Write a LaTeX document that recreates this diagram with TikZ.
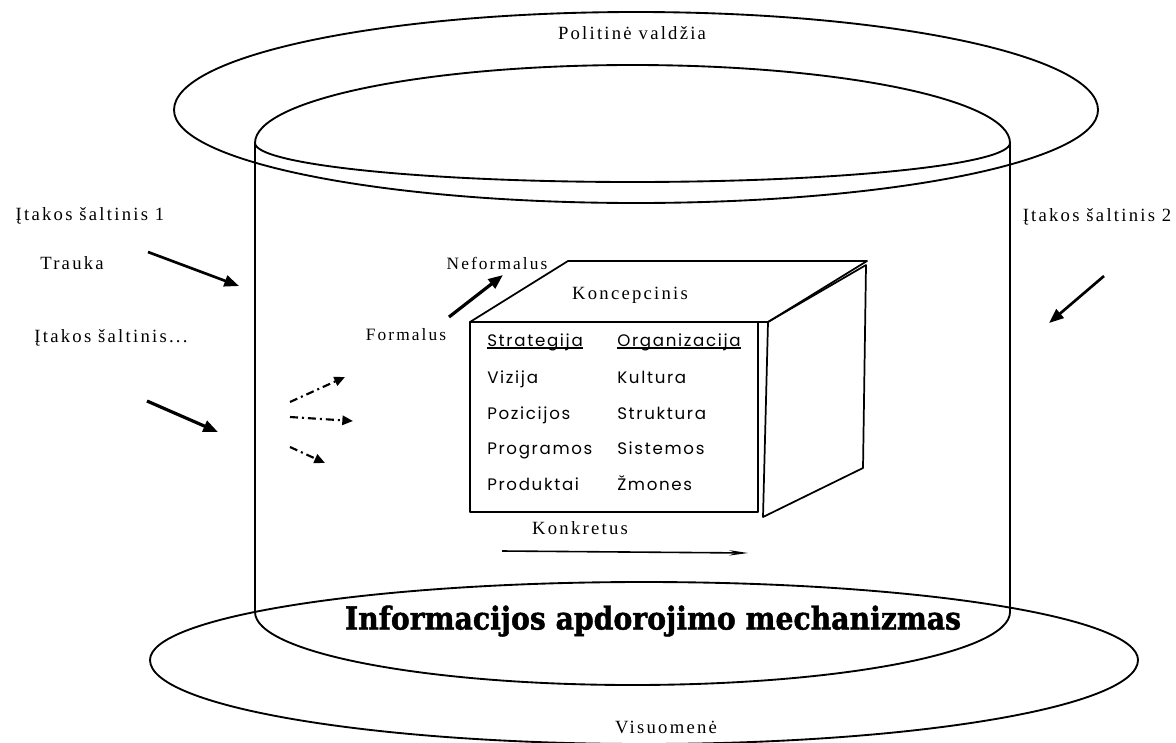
\documentclass[tikz,border=0pt]{standalone}
\usepackage{fontspec}
\setmainfont{Liberation Serif}
\newfontfamily\labelfont[LetterSpace=12]{Liberation Serif}
\newfontfamily\gothfont[LetterSpace=10]{Poppins}
\newfontfamily\heavyfont[BoldFeatures={FakeBold=1.5}]{DejaVu Serif}
\usetikzlibrary{arrows.meta}

\begin{document}
\begin{tikzpicture}[x=0.75pt,y=-0.75pt,
  rim/.style={line width=1.4pt, line join=round},
  wall/.style={line width=1.1pt},
  face/.style={line width=1.3pt, line join=round},
  lbl/.style={inner sep=0pt, font=\labelfont\fontsize{14}{16}\selectfont},
  small/.style={inner sep=0pt, font=\labelfont\fontsize{13}{15}\selectfont},
  cell/.style={inner sep=0pt, anchor=base west, font=\gothfont\fontsize{12.5}{14}\selectfont},
  push/.style={line width=2pt, -{Triangle[length=11pt,width=8.5pt]}},
  drift/.style={line width=1.6pt, dash pattern=on 6pt off 3pt on 1.5pt off 3pt, -{Triangle[length=8pt,width=7pt]}},
  uline/.style={line width=1.4pt},
]
\useasboundingbox (0,0) rectangle (1176,742);

% outer ring at the top
\draw[rim] (174,110) arc[start angle=180,end angle=360,x radius=462,y radius=98]
                     arc[start angle=0,end angle=180,x radius=462,y radius=93];
% top of the cylinder
\draw[rim] (255,143) arc[start angle=180,end angle=360,x radius=377.5,y radius=78]
                     arc[start angle=0,end angle=180,x radius=377.5,y radius=39];
% cylinder walls
\draw[wall] (255,143) -- (255,612);
\draw[wall] (1010,143) -- (1010,612);
% outer ring at the bottom
\draw[rim] (150,660) arc[start angle=180,end angle=360,x radius=494,y radius=78]
                     arc[start angle=0,end angle=180,x radius=494,y radius=84];
% front rim of the cylinder base
\draw[rim] (1010,612) arc[start angle=0,end angle=180,x radius=377.5,y radius=73];

% ring labels
\node[lbl] (gov) at (632,33) {Politinė valdžia};
\node[lbl] (soc) at (666,727) {Visuomenė};
\node[inner sep=0pt] (mech) at (653,621)
  {\resizebox{462pt}{18pt}{\heavyfont\bfseries Informacijos apdorojimo mechanizmas}};

% influence sources
\node[lbl] (src1) at (90,216) {Įtakos šaltinis 1};
\node[lbl] (pull) at (72,263) {Trauka};
\node[lbl] (srcn) at (111,338) {Įtakos šaltinis...};
\node[lbl] (src2) at (1097,217) {Įtakos šaltinis 2};

\coordinate (a1s) at (148,252); \coordinate (a1e) at (239,286);
\coordinate (a2s) at (147,401); \coordinate (a2e) at (218,432);
\coordinate (a3s) at (1104,276); \coordinate (a3e) at (1049,323);
\draw[push] (a1s) -- (a1e);
\draw[push, line width=2.4pt] (a2s) -- (a2e);
\draw[push] (a3s) -- (a3e);

% scattered dash-dot arrows
\coordinate (d1s) at (290,402); \coordinate (d1e) at (345,377);
\coordinate (d2s) at (290,417); \coordinate (d2e) at (353,421);
\coordinate (d3s) at (290,447); \coordinate (d3e) at (325,463);
\draw[drift] (d1s) -- (d1e);
\draw[drift] (d2s) -- (d2e);
\draw[drift] (d3s) -- (d3e);

% the cube
\draw[face] (470,322) -- (568,261) -- (867,261) -- (768,322) -- cycle;
\draw[face] (768,322) -- (866,265) -- (863,468) -- (763,517) -- cycle;
\draw[face] (470,322) rectangle (758,512);

\node[lbl] (conc) at (630,295) {Koncepcinis};
\node[small] (inf) at (497,263) {Neformalus};
\node[small] (form) at (406,335) {Formalus};
\node[lbl] (conk) at (580,528) {Konkretus};

\coordinate (f0) at (449,317); \coordinate (f1) at (503,275);
\draw[push, line width=2.4pt] (f0) -- (f1);
\coordinate (k0) at (502,551); \coordinate (k1) at (748,553);
\draw[line width=1.2pt, -{Stealth[length=14pt,width=4pt]}] (k0) -- (k1);

% table on the front face
\node[cell] (s0) at (487,346) {Strategija};
\node[cell] (s1) at (487,383) {Vizija};
\node[cell] (s2) at (487,419) {Pozicijos};
\node[cell] (s3) at (487,454) {Programos};
\node[cell] (s4) at (487,490) {Produktai};
\node[cell] (o0) at (617,346) {Organizacija};
\node[cell] (o1) at (617,383) {Kultura};
\node[cell] (o2) at (617,419) {Struktura};
\node[cell] (o3) at (617,454) {Sistemos};
\node[cell] (o4) at (617,490) {Žmones};
\draw[uline] ([yshift=-1.5pt]s0.base west) -- ([yshift=-1.5pt]s0.base east);
\draw[uline] ([yshift=-1.5pt]o0.base west) -- ([yshift=-1.5pt]o0.base east);
\end{tikzpicture}
\end{document}
